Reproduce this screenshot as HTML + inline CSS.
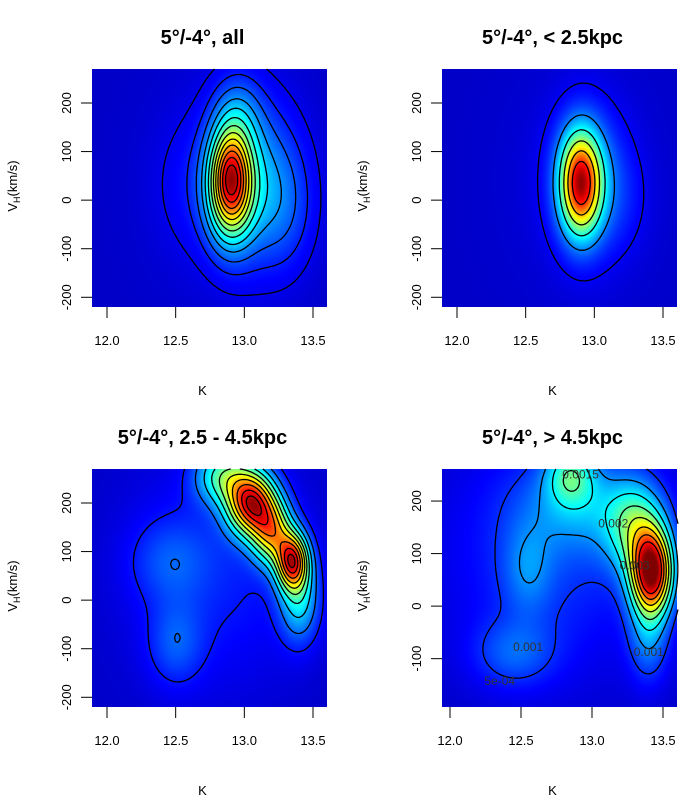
<!DOCTYPE html>
<html><head><meta charset="utf-8">
<style>
body{margin:0;background:#fff;width:700px;height:800px;overflow:hidden;position:relative;font-family:"Liberation Sans",Arial,sans-serif}
canvas{position:absolute}
svg{position:absolute;left:0;top:0}
</style></head>
<body>
<canvas id="c1"></canvas>
<canvas id="c2"></canvas>
<canvas id="c3"></canvas>
<canvas id="c4"></canvas>
<svg id="s" width="700" height="800"></svg>
<script>
// ---- data: gaussian density components per panel (K centre, V centre, sigmaK, sigmaV, weight)
const p1K=[12.9,13.05,13.3,12.95,12.6,12.9,12.9];
const p1V=[30,40,-20,170,30,40,60];
const p1SK=[0.11,0.22,0.15,0.12,0.2,0.45,0.08];
const p1SV=[75,110,90,60,100,200,55];
const p1W=[1,0.35,0.12,0.2,0.06,0.04,0.25];
const p1Levels=[0.04,0.09,0.15,0.22,0.29,0.37,0.45,0.53,0.61,0.69,0.77,0.85,0.93];

const p2K=[12.9,12.95,13.2,12.9];
const p2V=[35,40,0,40];
const p2SK=[0.1,0.18,0.15,0.45];
const p2SV=[70,100,80,200];
const p2W=[1,0.25,0.05,0.03];
const p2Levels=[0.05,0.2,0.36,0.52,0.68,0.84];

const p3K=[13.35,13.05,13.2,12.85,12.5,12.45,13.4,12.8];
const p3V=[80,200,140,255,-90,80,0,60];
const p3SK=[0.08,0.12,0.1,0.14,0.14,0.2,0.1,0.45];
const p3SV=[40,45,45,40,60,60,60,170];
const p3W=[0.85,0.9,0.6,0.4,0.13,0.11,0.3,0.1];
const p3Levels=[0.08,0.17,0.27,0.37,0.47,0.57,0.67,0.77,0.87,0.95];

const p4K=[13.42,13.3,12.85,12.55,12.45,12.95,13.4,12.7];
const p4V=[65,150,250,70,-90,190,-60,100];
const p4SK=[0.1,0.14,0.12,0.12,0.2,0.3,0.1,0.5];
const p4SV=[55,60,40,60,45,60,60,160];
const p4W=[1,0.35,0.3,0.12,0.13,0.16,0.18,0.12];
const p4Max=0.0045;
const p4Levels=[0.0005,0.001,0.0015,0.002,0.0025,0.003,0.0035,0.004];
const p4LabelText=["0.0015","0.002","0.003","0.001","0.001","5e-04"];
const p4LabelK=[12.92,13.15,13.3,12.55,13.4,12.35];
const p4LabelV=[243,150,70,-85,-95,-150];

const titles=["5°/-4°, all","5°/-4°, < 2.5kpc","5°/-4°, 2.5 - 4.5kpc","5°/-4°, > 4.5kpc"];
const kTicks=[12.0,12.5,13.0,13.5];
const kTickLabels=["12.0","12.5","13.0","13.5"];
const vTicks=[200,100,0,-100,-200];
const vTicks4=[200,100,0,-100];

const NS="http://www.w3.org/2000/svg";
const svg=document.getElementById('s');
function mk(t,a,p){const e=document.createElementNS(NS,t);for(const k in a)e.setAttribute(k,a[k]);(p||svg).appendChild(e);return e;}

const jet=[[0,0,127],[0,0,255],[0,127,255],[0,255,255],[127,255,127],[255,255,0],[255,127,0],[255,0,0],[127,0,0]];
function col(t){t=Math.max(0,Math.min(1,t))*8;const i=Math.min(7,Math.floor(t)),f=t-i;const a=jet[i],b=jet[i+1];return [a[0]+(b[0]-a[0])*f,a[1]+(b[1]-a[1])*f,a[2]+(b[2]-a[2])*f];}

function panel(o){
  const {L,T,W,H,k0,k1,v0,v1}=o;
  const xs=k=>L+(k-k0)/(k1-k0)*W, ys=v=>T+(v1-v)/(v1-v0)*H;
  const dens=(k,v)=>{let s=0;for(let i=0;i<o.K.length;i++){const dk=(k-o.K[i])/o.SK[i],dv=(v-o.V[i])/o.SV[i];s+=o.Wt[i]*Math.exp(-0.5*(dk*dk+dv*dv));}return s*o.scale;};
  const st=2,nx=Math.ceil(W/st),ny=Math.ceil(H/st);const grid=[];let gmax=0;
  for(let j=0;j<=ny;j++){const r=[];for(let i=0;i<=nx;i++){const d=dens(k0+i*st/W*(k1-k0),v1-j*st/H*(v1-v0));r.push(d);if(d>gmax)gmax=d;}grid.push(r);}
  const mx=o.abs?o.max:gmax*1.02;
  const levels=o.abs?o.levels:o.levels.map(l=>l*gmax);
  const cv=document.getElementById(o.cid);cv.width=W;cv.height=H;cv.style.left=L+'px';cv.style.top=T+'px';
  const ctx=cv.getContext('2d');const im=ctx.createImageData(W,H);
  for(let y=0;y<H;y++)for(let x=0;x<W;x++){
    const d=dens(k0+(x+0.5)/W*(k1-k0),v1-(y+0.5)/H*(v1-v0));
    const c=col(0.07+d/mx*0.93);const p=(y*W+x)*4;im.data[p]=c[0];im.data[p+1]=c[1];im.data[p+2]=c[2];im.data[p+3]=255;}
  ctx.putImageData(im,0,0);
  const g=mk('g',{});
  
  
  levels.forEach((lv,li)=>{
    let d='';
    for(let j=0;j<ny;j++)for(let i=0;i<nx;i++){
      const a=grid[j][i],b=grid[j][i+1],c=grid[j+1][i+1],e=grid[j+1][i];const pts=[];
      const X=i*st+L,Y=j*st+T;
      if((a-lv)*(b-lv)<0)pts.push([X+st*(lv-a)/(b-a),Y]);
      if((b-lv)*(c-lv)<0)pts.push([X+st,Y+st*(lv-b)/(c-b)]);
      if((e-lv)*(c-lv)<0)pts.push([X+st*(lv-e)/(c-e),Y+st]);
      if((a-lv)*(e-lv)<0)pts.push([X,Y+st*(lv-a)/(e-a)]);
      for(let q=0;q+1<pts.length;q+=2)d+=`M${pts[q][0].toFixed(1)} ${pts[q][1].toFixed(1)}L${pts[q+1][0].toFixed(1)} ${pts[q+1][1].toFixed(1)}`;
    }
    const p=mk('path',{d:d,fill:'none',stroke:'#000','stroke-width':1.3},g);
    
    
  });
  const fs='font-size:13px;font-family:Liberation Sans,Arial,sans-serif';
  kTicks.forEach((k,i)=>{const x=xs(k);
    const t=mk('line',{x1:x,x2:x,y1:T+H,y2:T+H+11,stroke:'#000'},g);
    
    const l=mk('text',{x:x,y:T+H+38,'text-anchor':'middle',style:fs},g);l.textContent=kTickLabels[i];
    });
  o.vt.forEach(v=>{const y=ys(v);
    const t=mk('line',{x1:L-11,x2:L,y1:y,y2:y,stroke:'#000'},g);
    
    const l=mk('text',{x:0,y:0,'text-anchor':'middle',style:fs,transform:`translate(${L-21},${y}) rotate(-90)`},g);l.textContent=String(v);
    });
  const tt=mk('text',{x:L+W/2-7,y:T-25,'text-anchor':'middle',style:'font-size:20px;font-weight:bold;font-family:Liberation Sans,Arial,sans-serif'},g);tt.textContent=o.title;
  
  const xl=mk('text',{x:L+W/2-7,y:T+H+88,'text-anchor':'middle',style:fs},g);xl.textContent='K';
  
  const yl=mk('text',{x:0,y:0,'text-anchor':'middle',style:fs,transform:`translate(${L-75},${T+H/2-2}) rotate(-90)`},g);
  yl.innerHTML='V<tspan font-size="9" dy="3">H</tspan><tspan dy="-3">(km/s)</tspan>';
  
  if(o.labels){o.labels.forEach((s,i)=>{const l=mk('text',{x:xs(p4LabelK[i]),y:ys(p4LabelV[i]),'text-anchor':'middle',fill:'#333',style:'font-size:12px;font-family:Liberation Sans,Arial,sans-serif'},g);l.textContent=s;
    });}
}
function kr(L,W,x12,x13){const s=(x13-x12)/1.5;return {k0:12+(L-x12)/s,k1:12+(L+W-x12)/s};}
const r1=kr(92,235,107,313);
panel(Object.assign({cid:'c1',name:'panel-all',title:titles[0],L:92,T:69,W:235,H:238,v0:-220,v1:270,K:p1K,V:p1V,SK:p1SK,SV:p1SV,Wt:p1W,scale:1,levels:p1Levels,vt:vTicks},r1));
panel(Object.assign({cid:'c2',name:'panel-near',title:titles[1],L:442,T:69,W:235,H:238,v0:-220,v1:270,K:p2K,V:p2V,SK:p2SK,SV:p2SV,Wt:p2W,scale:1,levels:p2Levels,vt:vTicks},kr(442,235,457,663)));
panel(Object.assign({cid:'c3',name:'panel-mid',title:titles[2],L:92,T:469,W:235,H:238,v0:-220,v1:270,K:p3K,V:p3V,SK:p3SK,SV:p3SV,Wt:p3W,scale:1,levels:p3Levels,vt:vTicks},r1));
panel(Object.assign({cid:'c4',name:'panel-far',title:titles[3],L:442,T:469,W:235,H:238,v0:-192,v1:261,K:p4K,V:p4V,SK:p4SK,SV:p4SV,Wt:p4W,scale:p4Max,abs:true,max:p4Max*1.05,levels:p4Levels,vt:vTicks4,labels:p4LabelText},kr(442,235,450,663)));
</script>
</body></html>
